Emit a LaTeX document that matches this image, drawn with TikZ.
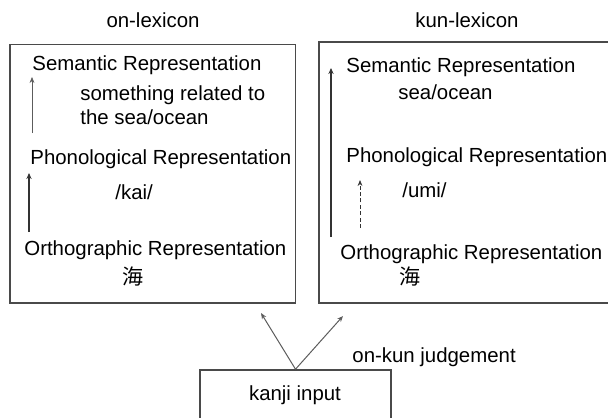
\documentclass[tikz,border=0pt]{standalone}
\usepackage{fontspec}
\setmainfont{Liberation Sans}
\newfontfamily\cjk{Noto Sans CJK JP}
\usetikzlibrary{arrows.meta, positioning, fit}
\definecolor{boxline}{HTML}{4a4a4a}
\definecolor{arrline}{HTML}{333333}
\tikzset{
  lexbox/.style={draw=boxline, line width=0.8pt, inner sep=0pt},
  label/.style={anchor=west, inner sep=0pt, text height=1.5ex, text depth=0.4ex, yshift=-0.8pt,
                font=\fontsize{10.2}{12}\selectfont},
  title/.style={inner sep=0pt, font=\fontsize{10.2}{12}\selectfont},
  kanjichar/.style={inner sep=0pt, font=\fontsize{10.5}{12}\selectfont\cjk},
  thinarr/.style={-{Stealth[length=3pt, width=2.4pt]}, line width=0.35pt, color=arrline!80},
  thickarr/.style={-{Stealth[length=3pt, width=2.6pt]}, line width=0.8pt, color=arrline},
  dasharr/.style={-{Stealth[length=3pt, width=2.4pt]}, line width=0.4pt, color=arrline,
                  dash pattern=on 2pt off 1.2pt},
}

\begin{document}
\begin{tikzpicture}[x=0.5pt, y=-0.5pt]
  \useasboundingbox (0,0) rectangle (608,417);

  % on-lexicon
  \node[title] (ontitle) at (153,20) {on-lexicon};
  \node[lexbox, fit={(10,44.5) (295.5,303)}] (onbox) {};
  \node[label] (onsem) at (32,63) {Semantic Representation};
  \node[label] (onmean1) at (80,93) {something related to};
  \node[label] (onmean2) at (80,117) {the sea/ocean};
  \node[label] (onpho) at (30,157) {Phonological Representation};
  \node[label] (onread) at (115,192) {/kai/};
  \node[label] (onorth) at (24,248) {Orthographic Representation};
  \node[kanjichar] (onkanji) at (133,277) {海};
  \coordinate (onsemtip) at (32,77);
  \coordinate (onsembot) at (32,133);
  \coordinate (onphotip) at (29,173);
  \coordinate (onphobot) at (29,232);
  \draw[thinarr] (onsembot) -- (onsemtip);
  \draw[thickarr] (onphobot) -- (onphotip);

  % kun-lexicon
  \node[title] (kuntitle) at (467,20) {kun-lexicon};
  \node[lexbox, fit={(319,42) (625,303)}] (kunbox) {};
  \node[label] (kunsem) at (346,65) {Semantic Representation};
  \node[label] (kunmean) at (398,92) {sea/ocean};
  \node[label] (kunpho) at (346,155) {Phonological Representation};
  \node[label] (kunread) at (402,190) {/umi/};
  \node[label] (kunorth) at (340,252) {Orthographic Representation};
  \node[kanjichar] (kunkanji) at (410,277) {海};
  \coordinate (kunsemtip) at (331,68);
  \coordinate (kunsembot) at (331,237);
  \coordinate (kunphotip) at (360,180);
  \coordinate (kunphobot) at (360,228);
  \draw[thickarr] (kunsembot) -- (kunsemtip);
  \draw[dasharr] (kunphobot) -- (kunphotip);

  % kanji input
  \node[lexbox, fit={(200,370) (391,425)}] (kanji) {};
  \node[title] (kanjitxt) at (295,395) {kanji input};
  \node[label] (judge) at (352,355) {on-kun judgement};
  \coordinate (onin) at (261,313);
  \coordinate (kunin) at (343,316);
  \draw[thinarr, line width=0.5pt] (kanji.north) -- (onin);
  \draw[thinarr, line width=0.5pt] (kanji.north) -- (kunin);
\end{tikzpicture}
\end{document}
